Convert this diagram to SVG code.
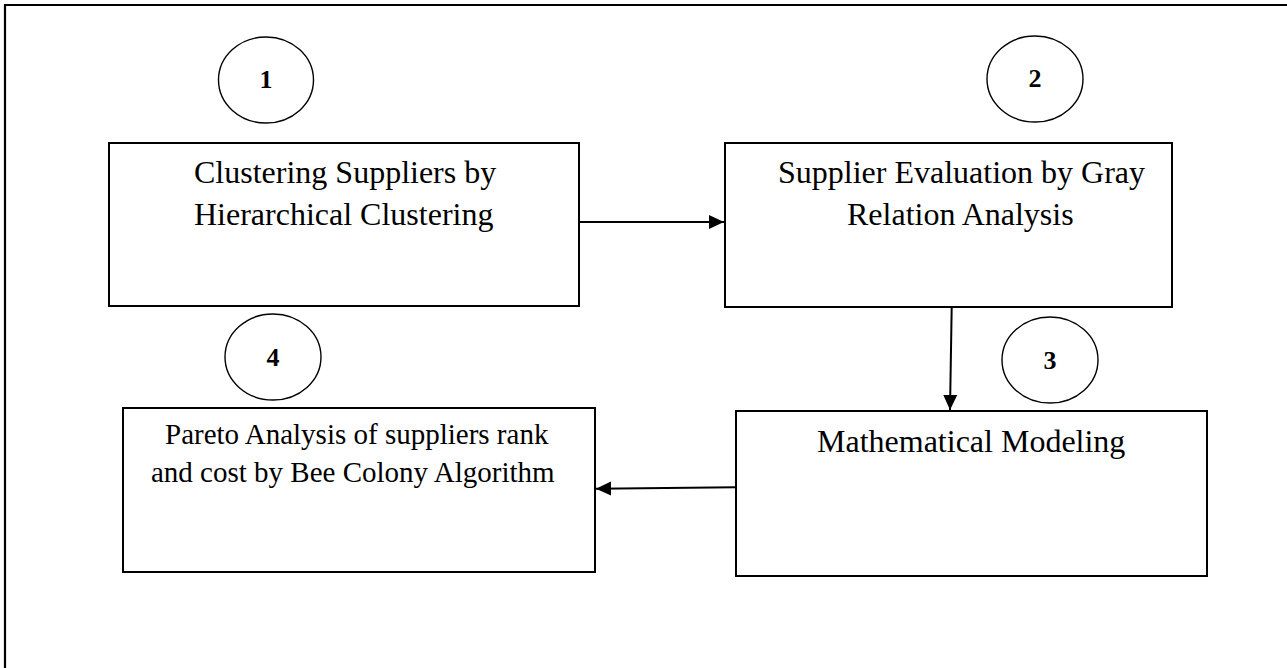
<svg xmlns="http://www.w3.org/2000/svg" width="1287" height="668" viewBox="0 0 1287 668">
<defs>
<style>
.box{fill:#fff;stroke:#000;stroke-width:2}
.num{fill:#fff;stroke:#000;stroke-width:1.4}
.lbl{font-family:"Liberation Serif","Times New Roman",serif;font-size:32px;fill:#000}
.lbl4{font-family:"Liberation Serif","Times New Roman",serif;font-size:29px;fill:#000}
.n{font-family:"Liberation Serif","Times New Roman",serif;font-size:26px;font-weight:bold;fill:#000;text-anchor:middle}
.edge{stroke:#000;stroke-width:2;fill:none;marker-end:url(#ah)}
</style>
<marker id="ah" markerUnits="userSpaceOnUse" markerWidth="16" markerHeight="16" viewBox="0 0 16 16" refX="15" refY="8" orient="auto">
<path d="M0,1 L15,8 L0,15 Z" fill="#000"/>
</marker>
</defs>
<rect width="1287" height="668" fill="#fff"/>
<path d="M5,668 L5,5 L1287,5" fill="none" stroke="#000" stroke-width="2.2"/>
<g id="node1">
<ellipse class="num" cx="266" cy="80" rx="47.5" ry="43"/>
<text class="n" x="266" y="88">1</text>
<rect class="box" x="109" y="143" width="470" height="163"/>
<text class="lbl" x="194" y="183">Clustering Suppliers by</text>
<text class="lbl" x="194" y="225">Hierarchical Clustering</text>
</g>
<g id="node2">
<ellipse class="num" cx="1035" cy="79" rx="48" ry="43"/>
<text class="n" x="1035" y="87">2</text>
<rect class="box" x="725" y="143" width="447" height="164"/>
<text class="lbl" x="778" y="183">Supplier Evaluation by Gray</text>
<text class="lbl" x="847" y="225">Relation Analysis</text>
</g>
<g id="node3">
<ellipse class="num" cx="1050" cy="360" rx="48" ry="43"/>
<text class="n" x="1050" y="368.5">3</text>
<rect class="box" x="736" y="411" width="471" height="165"/>
<text class="lbl" x="817" y="452">Mathematical Modeling</text>
</g>
<g id="node4">
<ellipse class="num" cx="273" cy="357" rx="48" ry="43"/>
<text class="n" x="273" y="365.5">4</text>
<rect class="box" x="123" y="408" width="472" height="164"/>
<text class="lbl4" x="165" y="444">Pareto Analysis of suppliers rank</text>
<text class="lbl4" x="151" y="482">and cost by Bee Colony Algorithm</text>
</g>
<g id="connectors">
<line class="edge" x1="579" y1="222" x2="724" y2="222"/>
<line class="edge" x1="951.7" y1="307" x2="950" y2="410"/>
<line class="edge" x1="736" y1="487.3" x2="596" y2="488.7"/>
</g>
</svg>
